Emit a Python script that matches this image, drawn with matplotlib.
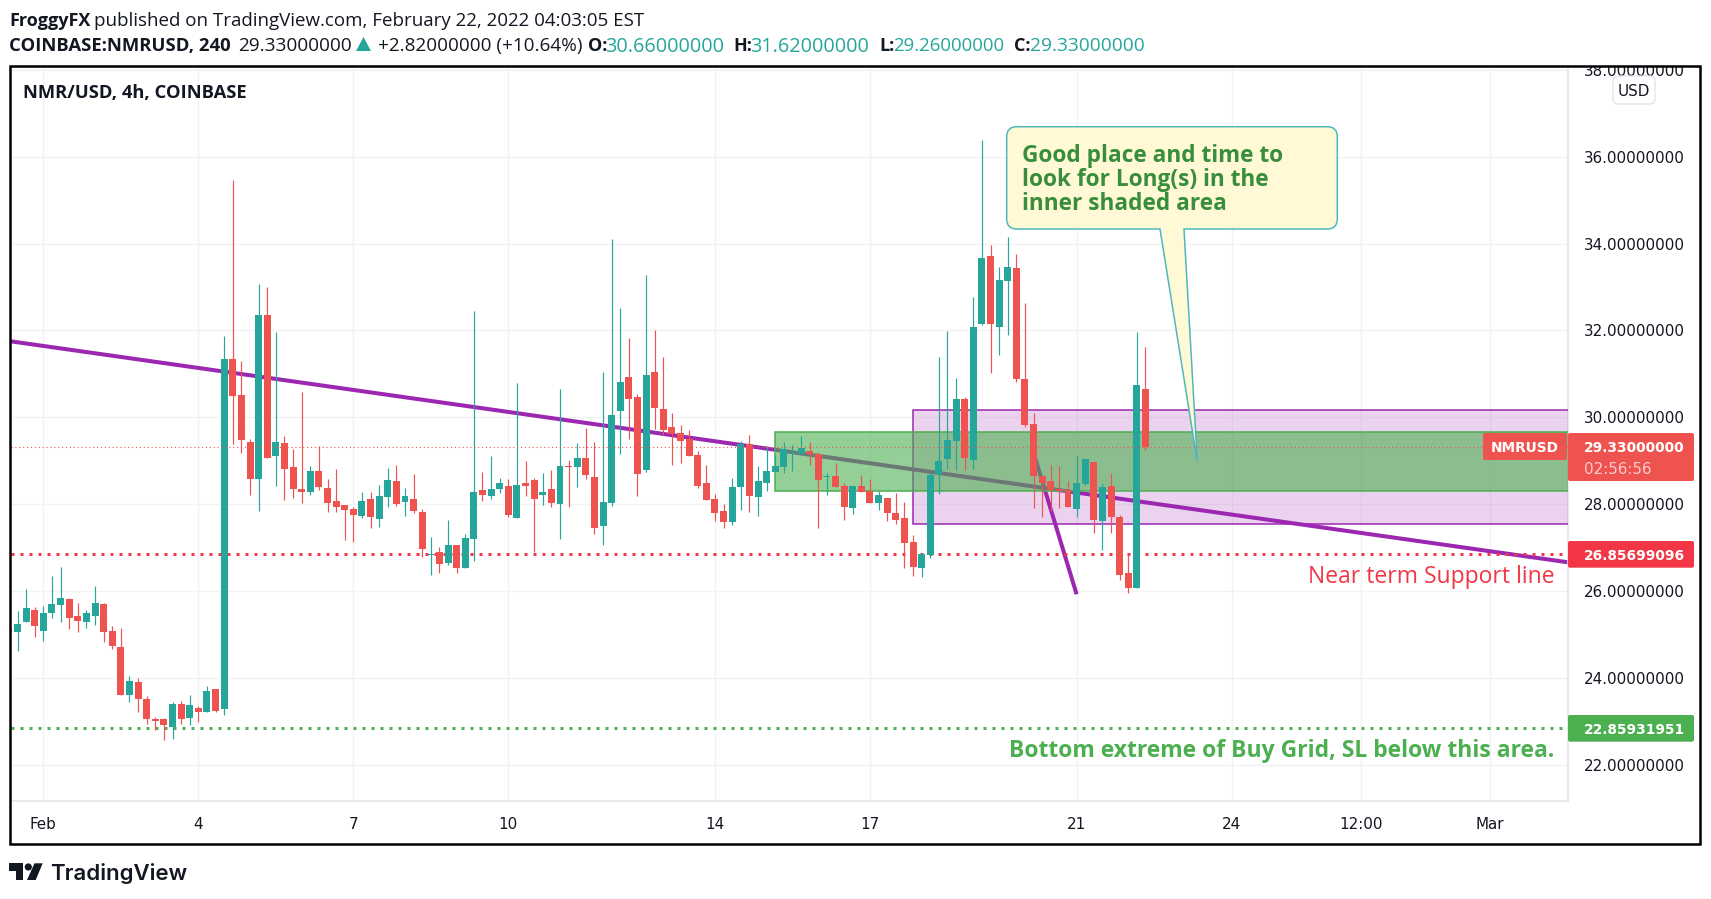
import matplotlib
matplotlib.use("Agg")
import matplotlib.pyplot as plt
import numpy as np
from matplotlib.patches import Rectangle, FancyBboxPatch, PathPatch, Polygon, Circle
from matplotlib.path import Path

# ---- data (bar index 0 = Feb 1 00:00, 6 bars a day) ----
first_bar = -4
opens = [25.12,25.05,25.30,25.57,25.09,25.49,25.69,25.83,25.42,25.30,
         25.43,25.71,25.09,24.72,23.62,23.92,23.53,23.07,23.05,22.88,
         23.41,23.09,23.32,23.21,23.76,23.28,31.34,30.52,29.44,28.58,
         32.36,29.11,29.41,28.86,28.35,28.28,28.77,28.38,28.08,27.98,
         27.90,27.73,28.12,27.67,28.17,28.54,28.05,28.12,27.82,26.83,
         26.90,26.65,27.06,26.53,27.20,28.33,28.19,28.35,28.42,27.68,
         28.49,28.56,28.21,28.35,28.00,28.88,28.85,29.06,28.62,27.50,
         28.03,30.14,30.93,30.47,28.79,31.04,30.19,29.77,29.64,29.50,
         29.13,28.49,28.12,27.84,27.59,28.39,29.38,28.16,28.49,28.74,
         28.86,29.15,29.16,29.23,29.16,28.63,28.65,28.42,27.91,28.42,
         28.30,28.03,28.14,27.80,27.68,27.13,26.53,26.83,28.70,29.04,
         29.46,30.42,29.02,32.15,33.71,32.08,33.14,33.44,30.88,29.85,
         28.65,28.54,28.35,28.33,27.89,28.47,28.98,27.62,28.42,27.71,
         26.42,26.08,30.66]
closes = [25.07,25.25,25.62,25.19,25.50,25.71,25.85,25.39,25.32,25.49,
          25.73,25.07,24.75,23.62,23.94,23.53,23.05,23.02,22.91,23.41,
          23.07,23.39,23.21,23.71,23.25,31.34,30.49,29.48,28.58,32.36,
          29.07,29.44,28.81,28.35,28.28,28.77,28.40,28.04,27.94,27.87,
          27.76,28.08,27.71,28.19,28.56,28.01,28.19,27.84,26.97,26.85,
          26.62,27.06,26.53,27.22,28.28,28.21,28.35,28.49,27.75,28.44,
          28.42,28.12,28.28,28.03,28.88,28.85,29.06,28.67,27.45,28.05,
          30.05,30.81,30.42,28.69,30.97,30.21,29.71,29.61,29.45,29.11,
          28.42,28.10,27.80,27.59,28.39,29.38,28.19,28.53,28.76,28.88,
          29.27,29.17,29.29,29.16,28.56,28.65,28.40,27.94,28.42,28.28,
          28.03,28.21,27.80,27.64,27.11,26.56,26.86,28.67,29.00,29.48,
          30.42,29.07,32.08,33.67,32.15,33.16,33.46,30.88,29.83,28.65,
          28.49,28.33,28.31,27.94,28.49,29.04,27.64,28.40,27.71,26.38,
          26.08,30.75,29.33]
highs = [25.12,25.55,26.06,25.64,25.66,26.36,26.56,25.85,25.73,25.57,
         26.13,25.73,25.20,25.16,24.06,24.01,23.58,23.11,23.09,23.44,
         23.48,23.60,23.35,23.82,23.76,31.87,35.46,31.30,29.51,33.07,
         33.00,31.97,29.58,29.28,30.59,28.88,29.34,28.58,28.81,27.98,
         27.94,28.28,28.28,28.45,28.84,28.91,28.37,28.69,27.89,27.24,
         27.01,27.64,27.06,27.31,32.44,28.74,29.11,28.60,28.58,30.79,
         28.99,28.60,28.72,28.79,30.65,29.02,29.41,29.75,29.43,31.04,
         34.10,32.51,31.82,30.53,33.27,32.01,31.39,30.10,29.82,29.71,
         29.22,28.90,28.23,28.00,28.60,29.45,29.59,28.88,29.34,29.13,
         29.43,29.36,29.57,29.43,29.20,28.72,28.95,28.49,28.42,28.67,
         28.58,28.30,28.14,28.26,28.05,27.29,26.88,28.72,31.39,31.99,
         30.91,30.47,32.77,36.38,33.97,33.46,34.15,33.76,32.63,30.10,
         28.65,28.91,28.88,28.54,29.11,29.04,28.98,28.49,28.72,27.76,
         26.86,31.97,31.62]
lows = [25.07,24.63,25.30,24.95,24.86,25.39,25.28,25.12,25.07,25.16,
        25.23,24.84,24.68,23.62,23.46,23.21,22.95,22.81,22.57,22.61,
        22.95,22.93,23.00,23.21,23.23,23.14,29.39,29.18,28.22,27.85,
        29.07,28.42,28.10,28.15,28.04,28.22,28.34,27.83,27.83,27.18,
        27.14,27.69,27.46,27.48,27.94,27.97,27.73,27.80,26.78,26.37,
        26.42,26.60,26.42,26.53,26.69,28.07,28.12,28.26,27.70,27.68,
        28.19,26.90,27.98,27.93,27.20,27.93,28.39,28.58,27.31,27.06,
        27.96,29.15,29.50,28.19,28.74,29.73,29.59,28.90,28.95,29.11,
        28.37,28.10,27.61,27.45,27.52,27.87,27.82,27.73,28.30,28.74,
        28.72,28.77,29.16,28.90,27.45,28.21,28.40,27.64,27.78,28.28,
        28.03,27.87,27.61,27.55,26.53,26.35,26.33,26.76,28.24,28.81,
        28.79,28.79,28.81,32.13,31.02,31.44,31.90,30.82,29.78,27.92,
        27.71,27.85,27.92,27.94,27.71,28.44,27.34,26.95,27.34,26.26,
        25.96,26.08,29.26]

price_ticks = [22, 24, 26, 28, 30, 32, 34, 36, 38]
time_ticks = [0, 18, 36, 54, 78, 96, 120, 138, 153, 168]
time_labels = ["Feb", "4", "7", "10", "14", "17", "21", "24", "12:00", "Mar"]

trend_main_bars = [-3.76, 177.07]
trend_main_prices = [31.75, 26.665]
trend_short_bars = [115.2, 120]
trend_short_prices = [29.06, 25.93]
outer_zone = (101, 27.54, 30.16)   # first bar, low, high
inner_zone = (85, 28.30, 29.66)
support_level = 26.85699096
grid_bottom_level = 22.85931951
last_price = 29.33

UP, DOWN = "#26a69a", "#ef5350"
PURPLE, GREEN = "#9c27b0", "#4caf50"
SUPPORT_RED = "#f23645"
INK = "#131722"
GRID = "#f1f2f4"
EDGE = "#e0e3eb"
HEAD = "Open Sans"

W, H = 1711, 899
fig = plt.figure(figsize=(W/100, H/100), dpi=100, facecolor="white")

# plot area, pixel box 11..1568 x 67..801.3
ax = fig.add_axes([11/W, 1-801.3/H, (1568-11)/W, (801.3-67)/H])
ax.set_xlim(-3.76, 177.07)
ax.set_ylim(21.165, 38.064)
for s in ("top", "left"):
    ax.spines[s].set_visible(False)
for s in ("right", "bottom"):
    ax.spines[s].set_color(EDGE)
    ax.spines[s].set_linewidth(1.1)
ax.yaxis.tick_right()
ax.set_yticks(price_ticks)
ax.set_yticklabels([f"{p:.8f}" for p in price_ticks], fontsize=10.9, color=INK)
ax.set_xticks(time_ticks)
ax.set_xticklabels(time_labels, fontsize=10.9, color=INK)
ax.tick_params(axis="both", length=0)
ax.tick_params(axis="y", pad=11.5)
ax.tick_params(axis="x", pad=11.5)
ax.grid(True, color=GRID, lw=1.0, zorder=0)
ax.set_axisbelow(True)

# drawings under the candles
ax.plot(trend_main_bars, trend_main_prices, color=PURPLE, lw=2.9, zorder=2, solid_capstyle="butt")
ax.plot(trend_short_bars, trend_short_prices, color=PURPLE, lw=2.9, zorder=2, solid_capstyle="butt")
x_end = ax.get_xlim()[1]
ax.add_patch(Rectangle((outer_zone[0], outer_zone[1]), x_end + 5 - outer_zone[0], outer_zone[2]-outer_zone[1],
                       facecolor=(156/255, 39/255, 176/255, 0.2), edgecolor=PURPLE, lw=1.1, zorder=3))
ax.add_patch(Rectangle((inner_zone[0], inner_zone[1]), x_end + 5 - inner_zone[0], inner_zone[2]-inner_zone[1],
                       facecolor=(76/255, 175/255, 80/255, 0.6), edgecolor=GREEN, lw=1.1, zorder=4))
ax.axhline(support_level, color=SUPPORT_RED, lw=2.16, ls=(0, (1, 2)), zorder=5)
ax.axhline(grid_bottom_level, color=GREEN, lw=2.16, ls=(0, (1, 2)), zorder=5)

# candles
bars = np.arange(first_bar, first_bar + len(opens))
o, c, hi, lo = map(np.array, (opens, closes, highs, lows))
colors = [UP if cc >= oo else DOWN for oo, cc in zip(o, c)]
ax.vlines(bars, lo, hi, colors=colors, lw=0.85, zorder=6)
ax.bar(bars, np.abs(c-o), bottom=np.minimum(o, c), width=0.81, color=colors, linewidth=0, zorder=7)
ax.axhline(last_price, color=DOWN, lw=0.8, ls=(0, (1, 2.5)), zorder=8)

# pixel overlay for chrome and annotations
ov = fig.add_axes([0, 0, 1, 1], facecolor="none")
ov.set_xlim(0, W)
ov.set_ylim(H, 0)
ov.axis("off")
ov.add_patch(Rectangle((0, 0), W, 66, facecolor="white", edgecolor="none", zorder=1))
ov.add_patch(Rectangle((10, 66), 1690.5, 778, facecolor="none", edgecolor="black", lw=1.8, zorder=2))


def label(x, y, s, size, color=INK, weight="normal", family=HEAD, ha="left", alpha=None):
    ov.text(x, y, s, fontsize=size, color=color, fontweight=weight, family=family,
            ha=ha, va="center_baseline", zorder=6, alpha=alpha)


# header
label(9.5, 19, "FroggyFX", 13, weight="bold")
label(94.5, 19, "published on TradingView.com, February 22, 2022 04:03:05 EST", 13.5)
label(9.5, 44, "COINBASE:NMRUSD, 240", 13.3, weight="bold")
label(238, 44, "29.33000000", 13.7)
ov.add_patch(Polygon([[356, 51], [371, 51], [363.5, 37]], closed=True, facecolor=UP, edgecolor="none", zorder=6))
label(378, 44, "+2.82000000 (+10.64%)", 13.55)
for lx, vx, lab, val, sz in [(588, 605, "O:", "30.66000000", 14.3), (733, 750.5, "H:", "31.62000000", 14.3),
                             (879, 893, "L:", "29.26000000", 13.4), (1013.6, 1030, "C:", "29.33000000", 13.8)]:
    label(lx, 44, lab, 13, weight="bold")
    label(vx, 44, val, sz, color=UP)
label(23, 90.7, "NMR/USD, 4h, COINBASE", 13.2, weight="bold")

# USD badge
ov.add_patch(FancyBboxPatch((1613, 76), 42, 28, boxstyle="round,pad=0,rounding_size=5",
                            facecolor="white", edgecolor=EDGE, lw=0.9, zorder=5))
label(1634, 90, "USD", 10.9, family="DejaVu Sans", ha="center")

# price scale boxes
AX = "DejaVu Sans"
for y0, y1, col in [(433, 481, DOWN), (541, 567.7, SUPPORT_RED), (715, 741.7, GREEN)]:
    ov.add_patch(FancyBboxPatch((1568, y0), 126, y1-y0, boxstyle="round,pad=0,rounding_size=2",
                                facecolor=col, edgecolor="none", zorder=5))
label(1584, 446.7, "29.33000000", 9.95, color="white", family=AX, weight="bold")
label(1584, 467.7, "02:56:56", 10.9, color="white", family=AX, alpha=0.7)
label(1584, 555, "26.85699096", 9.95, color="white", family=AX, weight="bold")
label(1584, 728.5, "22.85931951", 9.95, color="white", family=AX, weight="bold")
ov.add_patch(FancyBboxPatch((1483, 433), 84, 27, boxstyle="round,pad=0,rounding_size=2",
                            facecolor=DOWN, edgecolor="none", zorder=5))
label(1525, 446.7, "NMRUSD", 9.95, color="white", family=AX, ha="center", weight="bold")

# annotations
label(1555, 574, "Near term Support line", 16.5, color=SUPPORT_RED, ha="right")
label(1554, 748, "Bottom extreme of Buy Grid, SL below this area.", 16.45, color=GREEN, ha="right", weight="bold")

# callout
L, R, T, B, r = 1006.7, 1337.3, 126.7, 229, 10
tx0, tx1, tipx, tipy = 1160, 1184, 1197.3, 461.7
verts = [(L+r, T), (R-r, T), (R, T), (R, T+r), (R, B-r), (R, B), (R-r, B), (tx1, B), (tipx, tipy), (tx0, B),
         (L+r, B), (L, B), (L, B-r), (L, T+r), (L, T), (L+r, T), (L+r, T)]
codes = [Path.MOVETO, Path.LINETO, Path.CURVE3, Path.CURVE3, Path.LINETO, Path.CURVE3, Path.CURVE3, Path.LINETO,
         Path.LINETO, Path.LINETO, Path.LINETO, Path.CURVE3, Path.CURVE3, Path.LINETO, Path.CURVE3, Path.CURVE3,
         Path.CLOSEPOLY]
ov.add_patch(PathPatch(Path(verts, codes), facecolor="#fff9d6", edgecolor="#4fb8bd", lw=1.1, zorder=3))
for yy, s in [(152.7, "Good place and time to"), (176.7, "look for Long(s) in the"), (200.7, "inner shaded area")]:
    label(1022.3, yy, s, 16.3, color="#388e3c", weight="bold")

# logo
ov.add_patch(Polygon([[9, 863.3], [23.3, 863.3], [23.3, 880], [16, 880], [16, 870.7], [9, 870.7]],
                     closed=True, facecolor=INK, edgecolor="none", zorder=6))
ov.add_patch(Circle((28.3, 867), 3.6, facecolor=INK, edgecolor="none", zorder=6))
ov.add_patch(Polygon([[34.5, 863.3], [42.7, 863.3], [35.7, 880], [27, 880]],
                     closed=True, facecolor=INK, edgecolor="none", zorder=6))
label(50, 872, "TradingView", 16, weight="semibold", family="Inter")

fig.savefig("out.png", dpi=100, facecolor="white")
